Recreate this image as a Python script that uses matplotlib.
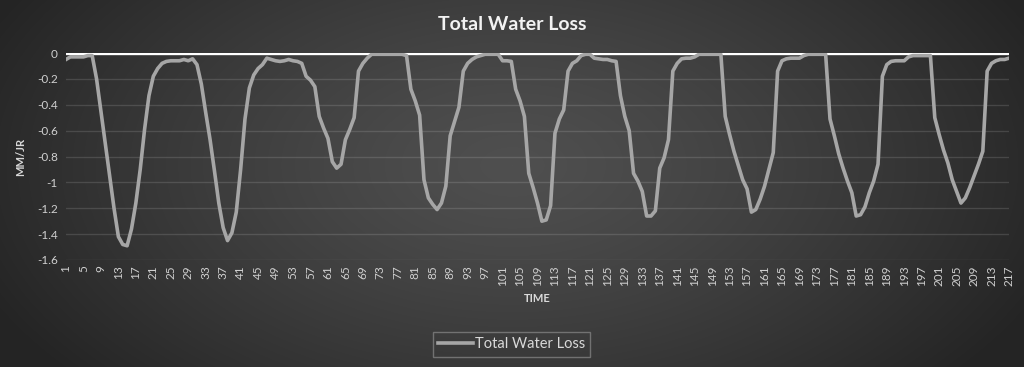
import numpy as np
import matplotlib
matplotlib.use("Agg")
import matplotlib.pyplot as plt

plt.rcParams['font.family'] = ['Lato', 'DejaVu Sans']

title = 'Total Water Loss'
series_name = 'Total Water Loss'

# total water loss per time step (mm/jr)
water_loss = [
    -0.05, -0.03, -0.03, -0.03, -0.03, -0.02, -0.02, -0.20, -0.45, -0.70,
    -0.95, -1.20, -1.42, -1.48, -1.49, -1.36, -1.16, -0.90, -0.59, -0.33,
    -0.18, -0.12, -0.08, -0.065, -0.06, -0.06, -0.06, -0.05, -0.06, -0.045,
    -0.09, -0.24, -0.46, -0.67, -0.91, -1.16, -1.35, -1.45, -1.39, -1.23,
    -0.90, -0.51, -0.27, -0.17, -0.12, -0.09, -0.04, -0.05, -0.06, -0.065,
    -0.06, -0.05, -0.06, -0.065, -0.08, -0.18, -0.21, -0.26, -0.49, -0.58,
    -0.66, -0.84, -0.89, -0.86, -0.67, -0.59, -0.50, -0.14, -0.08, -0.04,
    -0.01, -0.01, -0.01, -0.01, -0.01, -0.01, -0.01, -0.01, -0.02, -0.28,
    -0.37, -0.48, -0.98, -1.12, -1.17, -1.21, -1.16, -1.03, -0.64, -0.53,
    -0.42, -0.14, -0.08, -0.05, -0.03, -0.02, -0.01, -0.01, -0.01, -0.01,
    -0.06, -0.06, -0.065, -0.28, -0.37, -0.49, -0.93, -1.04, -1.16, -1.30,
    -1.29, -1.18, -0.62, -0.51, -0.44, -0.14, -0.08, -0.06, -0.02, -0.01,
    -0.01, -0.04, -0.045, -0.05, -0.05, -0.06, -0.065, -0.33, -0.49, -0.60,
    -0.93, -0.99, -1.07, -1.26, -1.26, -1.22, -0.89, -0.81, -0.67, -0.14,
    -0.08, -0.045, -0.04, -0.04, -0.03, -0.01, -0.01, -0.01, -0.01, -0.01,
    -0.01, -0.49, -0.63, -0.76, -0.87, -0.98, -1.05, -1.23, -1.21, -1.13,
    -1.03, -0.90, -0.77, -0.14, -0.06, -0.045, -0.04, -0.04, -0.04, -0.02,
    -0.01, -0.01, -0.01, -0.01, -0.01, -0.51, -0.64, -0.78, -0.89, -0.99,
    -1.08, -1.26, -1.25, -1.19, -1.08, -0.99, -0.86, -0.18, -0.09, -0.065,
    -0.06, -0.06, -0.06, -0.03, -0.02, -0.02, -0.02, -0.02, -0.02, -0.50,
    -0.63, -0.75, -0.85, -0.98, -1.07, -1.16, -1.12, -1.04, -0.95, -0.86,
    -0.76, -0.14, -0.08, -0.06, -0.05, -0.05, -0.04,
]
time = np.arange(1, len(water_loss) + 1)
y_ticks = [0, -0.2, -0.4, -0.6, -0.8, -1, -1.2, -1.4, -1.6]
y_ticklabels = ['0', '-0.2', '-0.4', '-0.6', '-0.8', '-1', '-1.2', '-1.4', '-1.6']

W, H = 1024, 367
fig = plt.figure(figsize=(W / 100, H / 100), dpi=100)

# radial dark background like the excel style
bg = fig.add_axes([0, 0, 1, 1], zorder=-10)
yy, xx = np.mgrid[0:H, 0:W]
d = np.sqrt(((xx - 512) / 580.0) ** 2 + ((yy - 165) / 330.0) ** 2)
shade = (0x4f - (0x4f - 0x24) * np.clip(d, 0, 1) ** 1.3) / 255.0
bg.imshow(np.dstack([shade, shade, shade]), aspect='auto', extent=[0, 1, 0, 1])
bg.axis('off')

ax = fig.add_axes([66 / W, 1 - 260 / H, (1009 - 66) / W, (260 - 53) / H])
ax.set_facecolor('none')
ax.plot(time, water_loss, color='#a6a6a6', lw=2.6, solid_joinstyle='round', zorder=3, label=series_name)
ax.axhline(0, color='white', lw=2.4, zorder=2)

ax.set_xlim(1, len(water_loss))
ax.set_ylim(-1.6, 0)
ax.set_yticks(y_ticks)
ax.set_yticklabels(y_ticklabels)
ax.set_xticks(time[::4])
ax.set_xticklabels([str(t) for t in time[::4]], rotation=90, va='top', ha='center')
ax.grid(axis='y', color='white', alpha=0.13, lw=1)
ax.set_axisbelow(True)
for s in ax.spines.values():
    s.set_visible(False)
ax.tick_params(axis='both', length=0, colors='#d0d0d0', labelsize=8.5)
ax.tick_params(axis='x', pad=4)
ax.tick_params(axis='y', pad=6)

ax.set_xlabel('TIME', color='#d9d9d9', fontsize=8, fontweight='bold', labelpad=5)
ax.set_ylabel('MM/JR', color='#d9d9d9', fontsize=8, fontweight='bold', labelpad=8)

fig.text(0.5, 1 - 25 / H, title, ha='center', va='center', color='#f2f2f2', fontsize=14, fontweight='bold')

leg = fig.legend(loc='center', bbox_to_anchor=(511.5 / W, 1 - 344.5 / H), frameon=True,
                 fontsize=10.5, labelcolor='#d9d9d9', handlelength=2.4, handletextpad=0.1,
                 borderpad=0.35, fancybox=False)
leg.get_frame().set_facecolor('none')
leg.get_frame().set_edgecolor('#808080')
leg.get_frame().set_linewidth(1.0)

fig.savefig('out.png', dpi=100)
